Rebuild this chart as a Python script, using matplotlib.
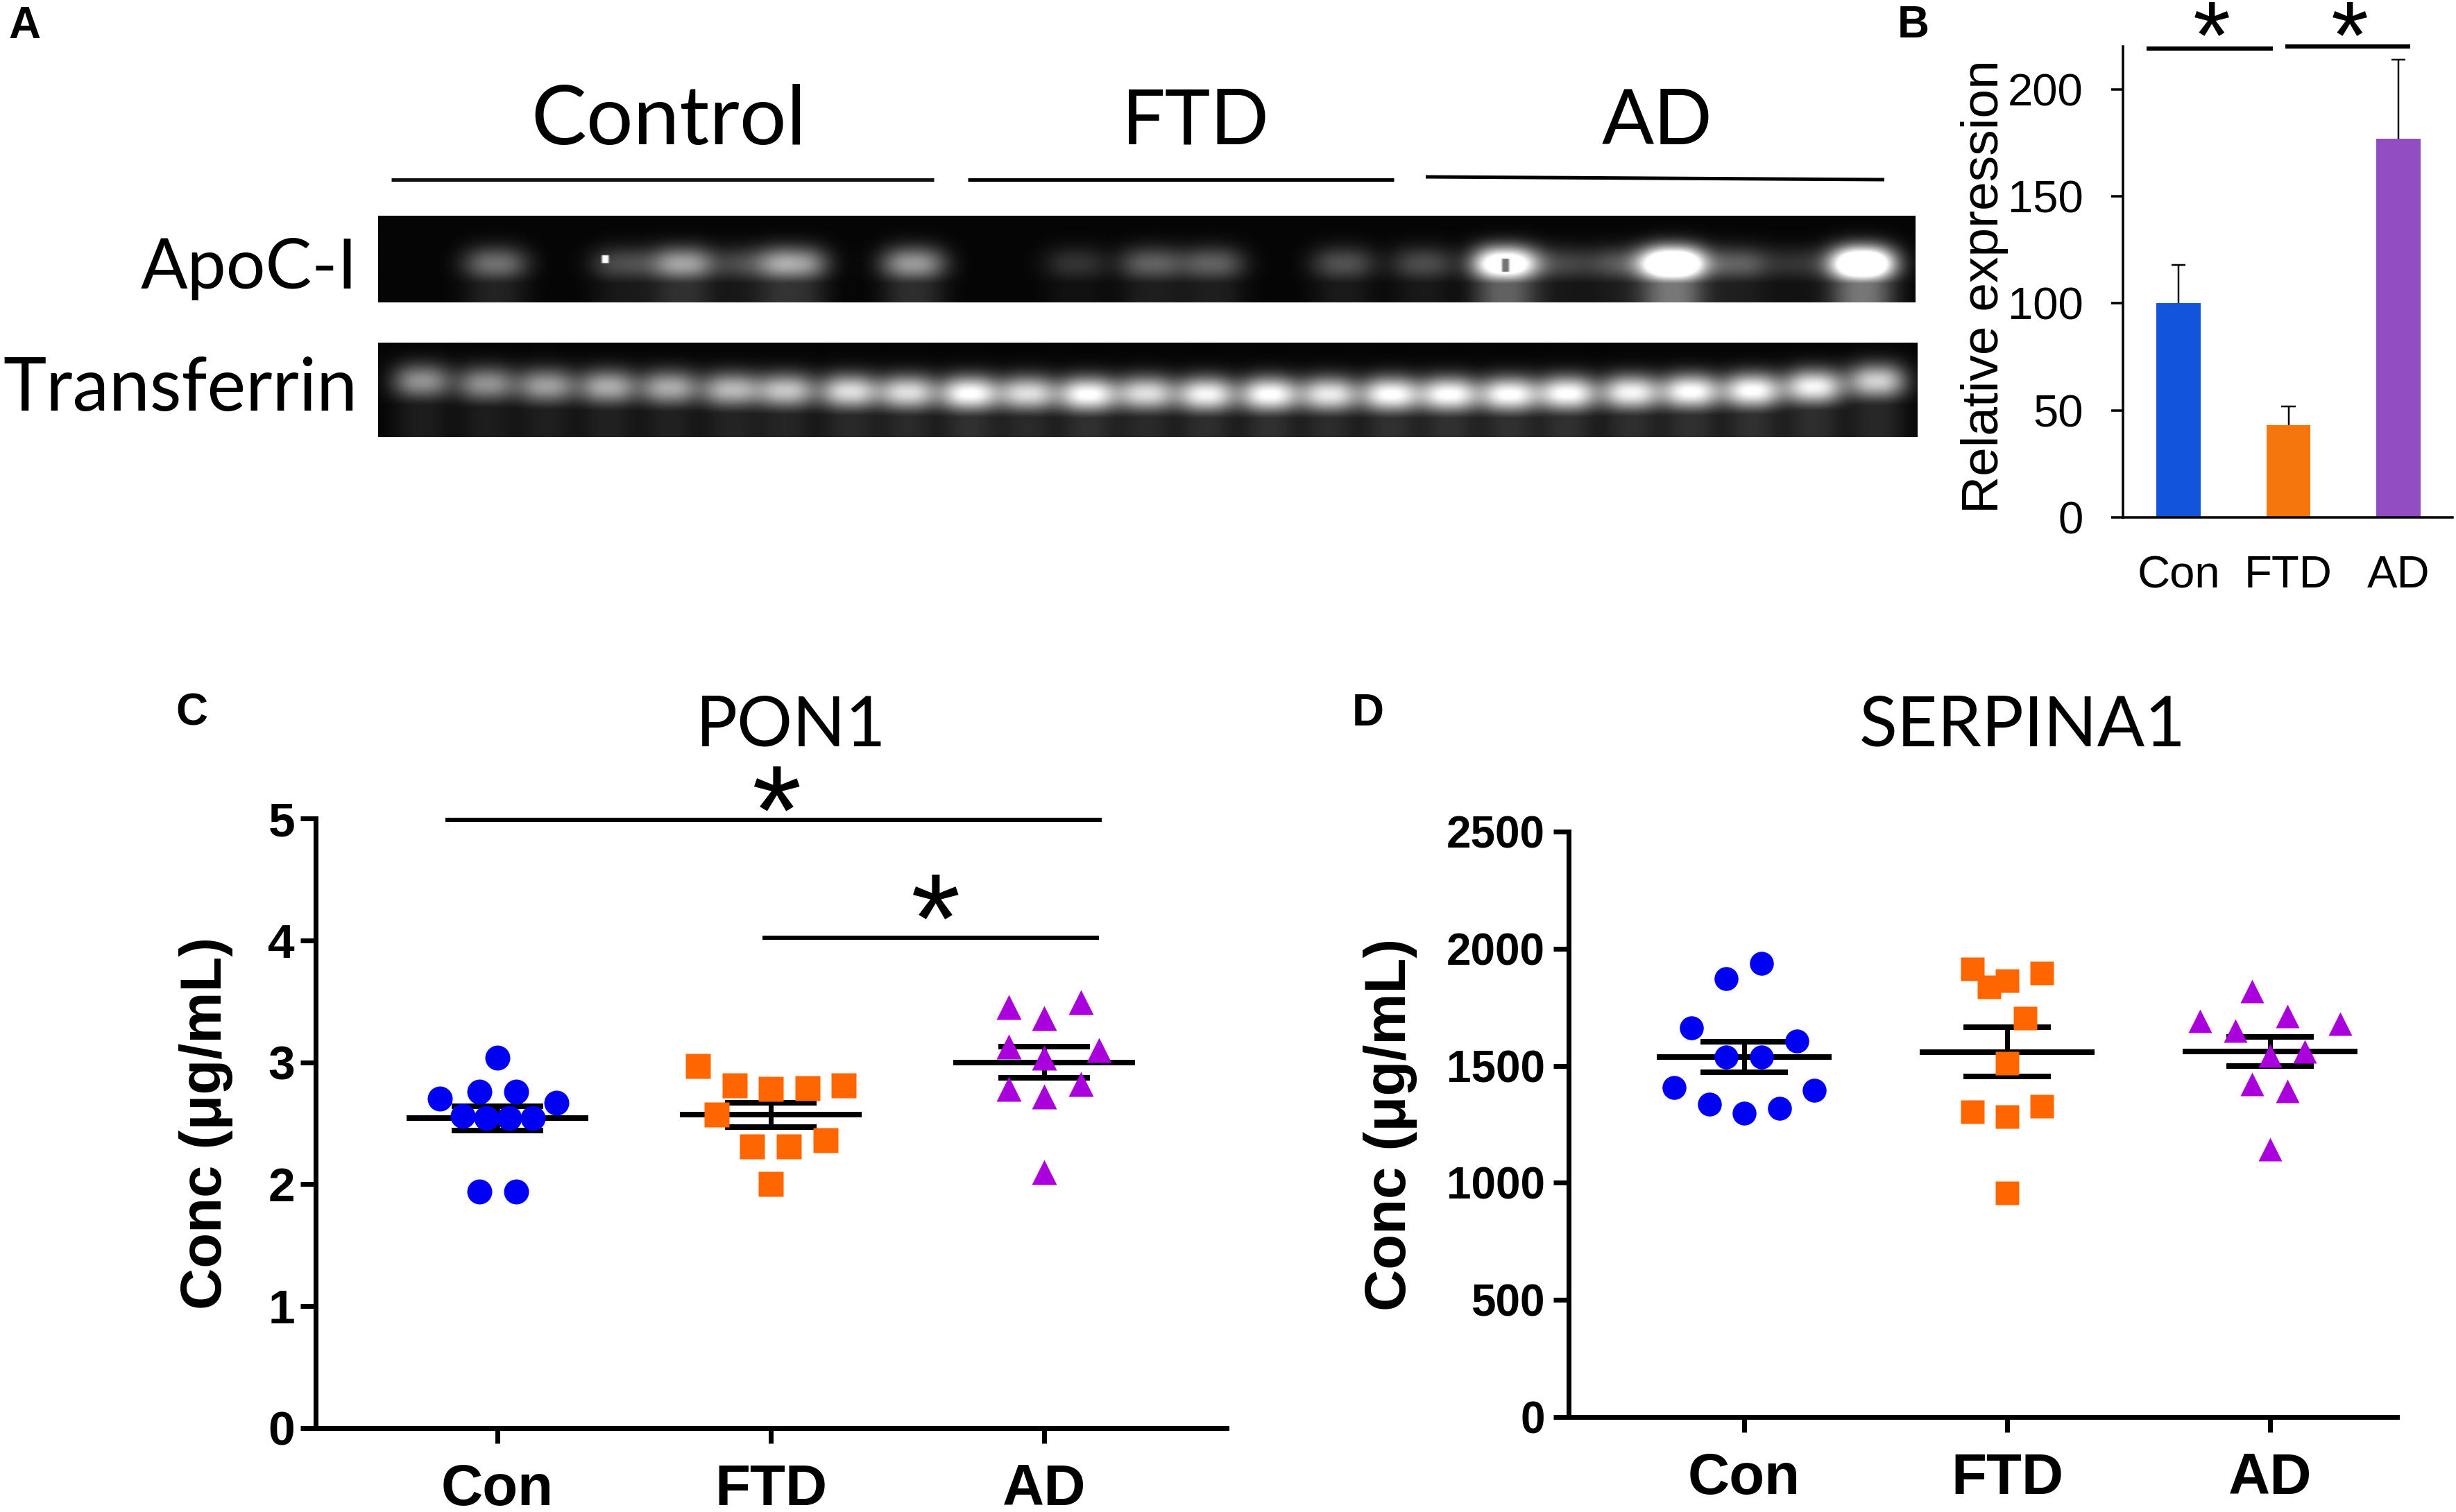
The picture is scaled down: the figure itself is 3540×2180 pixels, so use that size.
import numpy as np
import matplotlib
matplotlib.use("Agg")
import matplotlib.pyplot as plt

W, H = 3541, 2180
DPI = 100
PT = 72 / DPI  # points per pixel

plt.rcParams["font.family"] = ["Liberation Sans", "DejaVu Sans"]

groups = ["Con", "FTD", "AD"]

# B - western blot quantification
b_values = [100, 43, 177]
b_err_top = [118, 52, 214]
b_colors = ["#1254DC", "#F5760C", "#934DC2"]

# C - PON1
pon_con_x = [0, -0.066, 0.068, -0.21, 0.215, -0.127, -0.04, 0.043, 0.129, -0.066, 0.068]
pon_con_y = [3.04, 2.76, 2.76, 2.70, 2.67, 2.56, 2.54, 2.54, 2.54, 1.94, 1.94]
pon_ftd_x = [-0.267, -0.133, 0, 0.133, 0.267, -0.199, -0.068, 0.066, 0.199, 0]
pon_ftd_y = [2.97, 2.81, 2.78, 2.79, 2.81, 2.57, 2.31, 2.31, 2.36, 2.00]
pon_ad_x = [-0.131, 0, 0.133, -0.131, 0.199, 0, -0.131, 0.133, 0, 0]
pon_ad_y = [3.45, 3.36, 3.49, 3.13, 3.10, 3.04, 2.78, 2.82, 2.72, 2.10]
pon_mean = [2.54, 2.57, 3.00]
pon_top = [2.64, 2.67, 3.13]
pon_bot = [2.44, 2.47, 2.87]

# D - SERPINA1
ser_con_x = [0.066, -0.068, -0.201, 0.199, -0.068, 0.066, -0.267, -0.133, 0, 0.133, 0.265]
ser_con_y = [1936, 1871, 1663, 1605, 1536, 1536, 1407, 1336, 1297, 1318, 1396]
ser_ftd_x = [-0.133, -0.068, 0, 0.133, 0.068, 0, -0.133, 0, 0.133, 0]
ser_ftd_y = [1913, 1836, 1863, 1896, 1703, 1512, 1302, 1282, 1328, 957]
ser_ad_x = [-0.068, 0.066, -0.267, 0.267, -0.133, 0.133, 0, -0.068, 0.066, 0]
ser_ad_y = [1820, 1713, 1690, 1680, 1649, 1560, 1544, 1421, 1391, 1143]
ser_mean = [1536, 1559, 1561]
ser_top = [1603, 1664, 1624]
ser_bot = [1472, 1454, 1499]

# A - band positions (fraction of blot width), brightness
apo_lane_x = [0.076, 0.159, 0.198, 0.241, 0.271, 0.348, 0.454, 0.503, 0.543, 0.628, 0.680,
              0.733, 0.770, 0.809, 0.843, 0.885, 0.925, 0.966]
apo_level = [0.42, 0.28, 0.62, 0.28, 0.62, 0.58, 0.18, 0.36, 0.36, 0.30, 0.28,
             1.30, 0.25, 0.32, 1.60, 0.36, 0.18, 1.60]
tf_lane_x = [0.028, 0.070, 0.109, 0.149, 0.189, 0.229, 0.265, 0.306, 0.344, 0.384,
             0.422, 0.461, 0.499, 0.538, 0.579, 0.618, 0.658, 0.696, 0.735, 0.773,
             0.814, 0.853, 0.893, 0.933, 0.974]
tf_level = [0.55, 0.55, 0.60, 0.65, 0.65, 0.70, 0.75, 0.85, 0.85, 1.00,
            0.85, 1.00, 0.85, 0.95, 1.00, 0.90, 1.00, 1.00, 1.00, 1.00,
            0.95, 1.00, 1.00, 0.95, 0.80]
tf_band_y = [0.41, 0.44, 0.46, 0.47, 0.48, 0.50, 0.51, 0.52, 0.53, 0.54,
             0.54, 0.55, 0.54, 0.55, 0.55, 0.55, 0.55, 0.55, 0.55, 0.54,
             0.53, 0.52, 0.51, 0.47, 0.41]


def add_axes_px(left, top, right, bottom):
    return fig.add_axes([left / W, 1 - bottom / H, (right - left) / W, (bottom - top) / H])


def text_px(x, y, s, **kw):
    fig.text(x / W, 1 - y / H, s, **kw)


def blot(lane_x, level, band_y, band_h, lane_w, tail, rows):
    xx, yy = np.meshgrid(np.linspace(0, 1, 900), np.linspace(0, 1, rows))
    img = np.zeros_like(xx) + 0.02
    for cx, lv, cy in zip(lane_x, level, band_y):
        across = np.exp(-(np.abs(xx - cx) / lane_w) ** 2.5)
        down = np.exp(-((yy - cy) / band_h) ** 2)
        smear = tail * np.clip((yy - cy) / 0.1, 0, 1)
        img += lv * across * np.maximum(down, smear)
    return img


fig = plt.figure(figsize=(W / DPI, H / DPI), dpi=DPI)

# panel letters
for x, y, s in [(12, 55, "A"), (2735, 54, "B"), (253, 1046, "C"), (1949, 1046, "D")]:
    text_px(x, y, s, fontsize=46, fontweight="bold", va="baseline", ha="left")

# panel A
for cx, s, fs in [(964, "Control", 86), (1723, "FTD", 80), (2389, "AD", 80)]:
    text_px(cx, 208, s, fontsize=fs, family="Lato", ha="center", va="baseline")
line_ax = add_axes_px(0, 0, W, H)
line_ax.set_xlim(0, W)
line_ax.set_ylim(H, 0)
line_ax.axis("off")
line_ax.plot([564, 1346], [259, 259], color="#111111", lw=5 * PT, solid_capstyle="butt")
line_ax.plot([1395, 2009], [259, 259], color="black", lw=5 * PT, solid_capstyle="butt")
line_ax.plot([2055, 2716], [255, 259], color="black", lw=5 * PT, solid_capstyle="butt")

text_px(515, 416, "ApoC-I", fontsize=72, family="Lato", ha="right", va="baseline")
text_px(515, 592, "Transferrin", fontsize=76, family="Lato", ha="right", va="baseline")

ax_apo = add_axes_px(545, 311, 2761, 436)
apo_img = blot(apo_lane_x, apo_level, [0.56] * len(apo_lane_x), 0.2, 0.021, 0.28, 200)
apo_img[np.ix_(range(100, 130), range(658, 662))] = 0.45   # dark slit in the saturated band
apo_img[np.ix_(range(92, 110), range(131, 135))] = 1.0   # speck
ax_apo.imshow(apo_img, cmap="gray", vmin=0, vmax=1, aspect="auto", interpolation="bicubic")
ax_apo.axis("off")

ax_tf = add_axes_px(545, 494, 2764, 630)
tf_img = blot(tf_lane_x, tf_level, tf_band_y, 0.19, 0.019, 0.17, 200)
ax_tf.imshow(tf_img, cmap="gray", vmin=0, vmax=1, aspect="auto", interpolation="bilinear")
ax_tf.axis("off")

# panel B
ax_b = add_axes_px(3060, 67, 3535, 746)
pos = np.arange(3)
ax_b.bar(pos, b_values, width=0.4, color=b_colors)
ax_b.vlines(pos, b_values, b_err_top, color="black", lw=2.5 * PT)
ax_b.hlines(b_err_top, pos - 0.065, pos + 0.065, color="black", lw=2.5 * PT)
ax_b.set_xlim(-0.505, 2.492)
ax_b.set_ylim(0, 220)
ax_b.set_yticks([0, 50, 100, 150, 200])
ax_b.set_xticks(pos)
ax_b.set_xticklabels(groups)
ax_b.tick_params(axis="y", labelsize=47, length=17 * PT, width=3.5 * PT, pad=40 * PT)
ax_b.tick_params(axis="x", labelsize=47, length=0, pad=54 * PT)
ax_b.spines[["top", "right"]].set_visible(False)
ax_b.spines[["left", "bottom"]].set_linewidth(3.5 * PT)
ax_b.plot([-0.29, 0.86], [219, 219], color="black", lw=6 * PT, clip_on=False, solid_capstyle="butt")
ax_b.plot([0.97, 2.11], [220, 220], color="black", lw=6 * PT, clip_on=False, solid_capstyle="butt")
for x in [0.30, 1.56]:
    ax_b.text(x, 210, "*", fontsize=100, ha="center", va="baseline", clip_on=False)
text_px(2895, 413, "Relative expression", fontsize=54, rotation=90, ha="right", va="center")


def scatter_panel(ax, xs, ys, mean, top, bot, ms, cap_px, ytick_fs, ytick_pad, label_pad):
    styles = [("o", "#0000F5"), ("s", "#FF6600"), ("^", "#AA00DD")]
    for i in range(3):
        ax.hlines(mean[i], i + 1 - 0.333, i + 1 + 0.333, color="black", lw=8 * PT, capstyle="butt", zorder=2)
    ax.errorbar([1, 2, 3], mean, yerr=[np.array(mean) - np.array(bot), np.array(top) - np.array(mean)],
                fmt="none", ecolor="black", elinewidth=7 * PT, capsize=cap_px * PT, capthick=8 * PT, zorder=2)
    for i in range(3):
        m, c = styles[i]
        ax.plot(i + 1 + np.array(xs[i]), ys[i], ls="none", marker=m, color=c, mec="none", ms=ms * PT, zorder=3)
    ax.set_xticks([1, 2, 3])
    ax.set_xticklabels(groups, fontsize=60, fontweight="bold")
    ax.tick_params(axis="x", length=22 * PT, width=7 * PT, pad=28 * PT)
    ax.tick_params(axis="y", length=22 * PT, width=7 * PT, labelsize=ytick_fs, pad=ytick_pad * PT)
    for lab in ax.get_yticklabels():
        lab.set_fontweight("bold")
    ax.spines[["top", "right"]].set_visible(False)
    ax.spines[["left", "bottom"]].set_linewidth(7 * PT)
    ax.set_ylabel("Conc (\u03bcg/mL)", fontsize=60, fontweight="bold", labelpad=label_pad)


# panel C
ax_c = add_axes_px(455, 1180, 1768, 2059)
ax_c.set_yticks([0, 1, 2, 3, 4, 5])
scatter_panel(ax_c, [pon_con_x, pon_ftd_x, pon_ad_x], [pon_con_y, pon_ftd_y, pon_ad_y],
              pon_mean, pon_top, pon_bot, 36, 66, 50, 8, 36)
ax_c.set_xlim(0.335, 3.667)
ax_c.set_ylim(0, 5)
ax_c.plot([0.81, 3.21], [4.99, 4.99], color="black", lw=6 * PT, clip_on=False, solid_capstyle="butt")
ax_c.plot([1.97, 3.20], [4.02, 4.02], color="black", lw=6 * PT, clip_on=False, solid_capstyle="butt")
ax_c.text(2.02, 4.71, "*", fontsize=132, ha="center", va="baseline", clip_on=False)
ax_c.text(2.60, 3.82, "*", fontsize=132, ha="center", va="baseline", clip_on=False)
text_px(1140, 1075, "PON1", fontsize=72, family="Lato", ha="center", va="baseline")

# panel D
ax_d = add_axes_px(2261, 1199, 3455, 2043)
ax_d.set_yticks([0, 500, 1000, 1500, 2000, 2500])
scatter_panel(ax_d, [ser_con_x, ser_ftd_x, ser_ad_x], [ser_con_y, ser_ftd_y, ser_ad_y],
              ser_mean, ser_top, ser_bot, 34.5, 63, 46, 12, 30)
ax_d.set_xlim(0.332, 3.483)
ax_d.set_ylim(0, 2500)
text_px(2915, 1075, "SERPINA1", fontsize=73, family="Lato", ha="center", va="baseline")

fig.savefig("out.png", dpi=DPI)
